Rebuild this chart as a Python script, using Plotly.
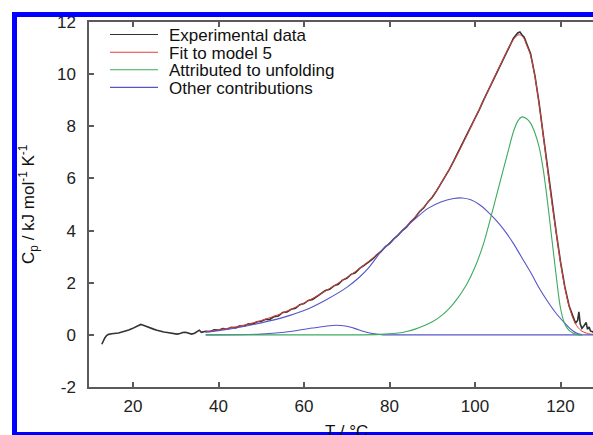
import plotly.graph_objects as go

# ---------------- data ----------------
exp_x = [12.7, 13.0, 13.4, 13.8, 14.3, 15.0, 15.8, 16.6, 17.4, 18.2, 19.0, 19.8, 20.6, 21.3, 21.8,
         22.4, 23.2, 24.0, 24.8, 25.6, 26.4, 27.2, 28.0, 28.8, 29.6, 30.3, 31.0, 31.6, 32.3, 33.0,
         33.7, 34.4, 35.0, 35.5, 36.0, 36.5,
         37, 38, 39, 40, 41, 42, 43, 44, 45, 46, 47, 48, 49, 50, 51, 52, 53, 54, 55, 56, 57, 58, 59,
         60, 61, 62, 63, 64, 65, 66, 67, 68, 69, 70, 71, 72, 73, 74, 75, 76, 77, 78, 79, 80, 81, 82,
         83, 84, 85, 86, 87, 88, 89, 90, 91, 92, 93, 94, 95, 96, 97, 98, 99, 100, 101, 102, 103, 104,
         105, 106, 107, 108, 109, 110, 110.5, 111, 111.5, 112, 113, 114, 115, 116, 117, 118, 119, 120,
         121, 122, 123, 123.5, 124, 124.3, 124.6, 125, 125.5, 126, 126.3, 126.7, 127, 127.5, 128]
exp_y = [-0.36, -0.25, -0.12, -0.03, 0.02, 0.04, 0.05, 0.07, 0.11, 0.14, 0.19, 0.24, 0.30, 0.37, 0.40,
         0.37, 0.31, 0.27, 0.22, 0.18, 0.14, 0.11, 0.09, 0.06, 0.05, 0.03, 0.05, 0.09, 0.10, 0.07,
         0.03, 0.06, 0.13, 0.18, 0.10, 0.12,
         0.14, 0.13, 0.19, 0.18, 0.24, 0.22, 0.29, 0.27, 0.35, 0.33, 0.42, 0.41, 0.50, 0.52, 0.60, 0.59,
         0.70, 0.72, 0.86, 0.88, 0.98, 1.02, 1.16, 1.20, 1.32, 1.36, 1.48, 1.57, 1.70, 1.75, 1.88, 1.94,
         2.10, 2.17, 2.32, 2.38, 2.55, 2.66, 2.79, 2.90, 3.07, 3.19, 3.38, 3.50, 3.68, 3.82, 4.00, 4.14,
         4.35, 4.50, 4.72, 4.88, 5.10, 5.28, 5.52, 5.78, 6.05, 6.35, 6.66, 6.98, 7.30, 7.62, 7.98, 8.32,
         8.64, 9.00, 9.34, 9.70, 10.06, 10.40, 10.75, 11.08, 11.38, 11.58, 11.62, 11.50, 11.42, 11.20,
         10.78, 9.95, 8.88, 7.62, 6.32, 5.05, 3.92, 2.80, 1.85, 1.12, 0.62, 0.45, 0.55, 0.88, 0.42, 0.25,
         0.35, 0.48, 0.22, 0.30, 0.15, 0.12, 0.05]

fit_x = [37, 40, 45, 50, 55, 60, 65, 70, 75, 80, 85, 90, 95, 100, 103, 105, 107, 108, 109, 110,
         110.7, 111.5, 112, 113, 114, 115, 116, 117, 118, 119, 120, 121, 122, 123, 124, 125, 126, 127, 127.6]
fit_y = [0.12, 0.19, 0.34, 0.55, 0.84, 1.22, 1.68, 2.20, 2.80, 3.52, 4.35, 5.30, 6.65, 8.30, 9.34, 10.05,
         10.72, 11.05, 11.33, 11.50, 11.50, 11.35, 11.15, 10.72, 9.92, 8.85, 7.60, 6.30, 5.05, 3.90, 2.78,
         1.82, 1.10, 0.60, 0.30, 0.14, 0.07, 0.03, 0.02]

unf_x = [37, 60, 72, 78, 80, 82, 84, 86, 88, 90, 92, 94, 96, 98, 100, 102, 104, 106, 108, 109, 110,
         111, 112, 113, 114, 115, 116, 117, 118, 119, 120, 121, 122, 123, 124, 125]
unf_y = [0, 0, 0, 0.02, 0.04, 0.07, 0.13, 0.22, 0.35, 0.50, 0.72, 1.02, 1.42, 1.92, 2.60, 3.50, 4.70,
         5.95, 7.20, 7.80, 8.20, 8.36, 8.30, 8.12, 7.75, 7.20, 6.30, 5.05, 3.65, 2.25, 1.02, 0.42, 0.17,
         0.06, 0.01, 0]

oth_broad_x = [37, 40, 45, 50, 55, 60, 65, 70, 73, 75, 77, 78, 80, 83, 86, 89, 92, 95, 97, 99, 101,
               103, 105, 107, 109, 111, 113, 115, 117, 119, 121, 122, 123, 124, 125]
oth_broad_y = [0.10, 0.16, 0.29, 0.46, 0.66, 0.93, 1.33, 1.82, 2.22, 2.55, 2.98, 3.20, 3.52, 4.00, 4.45,
               4.85, 5.10, 5.23, 5.25, 5.18, 5.00, 4.72, 4.38, 3.98, 3.50, 2.95, 2.40, 1.80, 1.28, 0.82,
               0.45, 0.28, 0.14, 0.05, 0.01]

oth_bump_x = [37, 45, 50, 54, 58, 62, 65, 67.5, 70, 72, 74, 76, 78, 80, 90, 110, 127.6]
oth_bump_y = [0, 0.005, 0.03, 0.08, 0.16, 0.26, 0.33, 0.37, 0.33, 0.24, 0.13, 0.05, 0.01, 0, 0, 0, 0]

x_ticks = [20, 40, 60, 80, 100, 120]
x_ticklabels = ["20", "40", "60", "80", "100", "120"]
y_ticks = [-2, 0, 2, 4, 6, 8, 10, 12]
y_ticklabels = ["-2", "0", "2", "4", "6", "8", "10", "12"]

legend_names = ["Experimental data", "Fit to model 5", "Attributed to unfolding", "Other contributions"]
colors = ["#333333", "#e0403a", "#3daa60", "#5555c8"]

# ---------------- figure ----------------
FONT = "Liberation Sans, Arial, sans-serif"
W, H = 593, 435
L, R, T, B = 89, 0, 22, 48
PW, PH = W - L - R, H - T - B


def xp(px):
    return (px - L) / PW


def yp(py):
    return (H - B - py) / PH


fig = go.Figure()
fig.add_trace(go.Scatter(x=exp_x, y=exp_y, mode="lines", line=dict(color=colors[0], width=1.6),
                         name=legend_names[0], showlegend=False))
fig.add_trace(go.Scatter(x=fit_x, y=fit_y, mode="lines", line=dict(color=colors[1], width=1.0, shape="spline", smoothing=0.8),
                         name=legend_names[1], showlegend=False))
fig.add_trace(go.Scatter(x=oth_bump_x, y=oth_bump_y, mode="lines", line=dict(color=colors[3], width=1.1, shape="spline", smoothing=0.8),
                         name=legend_names[3], showlegend=False))
fig.add_trace(go.Scatter(x=oth_broad_x, y=oth_broad_y, mode="lines", line=dict(color=colors[3], width=1.1, shape="spline", smoothing=0.8),
                         name=legend_names[3], showlegend=False))
fig.add_trace(go.Scatter(x=unf_x, y=unf_y, mode="lines", line=dict(color=colors[2], width=1.1, shape="spline", smoothing=0.8),
                         name=legend_names[2], showlegend=False))

axis_common = dict(showline=True, linecolor="#5a5a5a", linewidth=1.5, ticks="inside", ticklen=5,
                   tickwidth=1.5, tickcolor="#5a5a5a", showgrid=False, zeroline=False,
                   tickfont=dict(family=FONT, size=17, color="#222"))
fig.update_xaxes(range=[9.7, 127.6], tickvals=x_ticks, ticktext=x_ticklabels, mirror="ticks",
                 ticklabelstandoff=3, **axis_common)
fig.update_yaxes(range=[-2, 12], tickvals=y_ticks, ticktext=y_ticklabels, mirror=False,
                 ticklabelstandoff=8, **axis_common)

shapes = []
annotations = []
# legend (drawn manually to match tight spacing)
leg_y = [34.5, 52.2, 69.8, 87.4]
for name, c, y in zip(legend_names, colors, leg_y):
    shapes.append(dict(type="line", xref="paper", yref="paper", x0=xp(110), x1=xp(158), y0=yp(y), y1=yp(y),
                       line=dict(color=c, width=1.1)))
    annotations.append(dict(text=name, xref="paper", yref="paper", x=xp(167), y=yp(y + 1), xanchor="left",
                            yanchor="middle", showarrow=False, font=dict(family=FONT, size=17, color="#111")))

# axis titles
annotations.append(dict(text="C<sub>p</sub> / kJ mol<sup>-1</sup> K<sup>-1</sup>", xref="paper", yref="paper",
                        x=xp(29), y=yp(204), textangle=-90, xanchor="center", yanchor="middle", showarrow=False,
                        font=dict(family=FONT, size=17, color="#111")))
annotations.append(dict(text="T / °C", xref="paper", yref="paper", x=xp(346), y=yp(431), xanchor="center",
                        yanchor="middle", showarrow=False, font=dict(family=FONT, size=17, color="#111")))

# blue frame of the cropped figure
BLUE = "#0000ff"
shapes.append(dict(type="rect", xref="paper", yref="paper", x0=xp(12), x1=xp(600), y0=yp(17), y1=yp(12),
                   fillcolor=BLUE, line=dict(width=0), layer="above"))
shapes.append(dict(type="rect", xref="paper", yref="paper", x0=xp(12), x1=xp(17), y0=yp(440), y1=yp(12),
                   fillcolor=BLUE, line=dict(width=0), layer="above"))
shapes.append(dict(type="rect", xref="paper", yref="paper", x0=xp(12), x1=xp(600), y0=yp(440), y1=yp(432),
                   fillcolor=BLUE, line=dict(width=0), layer="above"))

fig.update_layout(width=W, height=H, margin=dict(l=L, r=R, t=T, b=B), plot_bgcolor="white",
                  paper_bgcolor="white", showlegend=False, shapes=shapes, annotations=annotations,
                  font=dict(family=FONT, size=17))

fig.write_html("out.html")
